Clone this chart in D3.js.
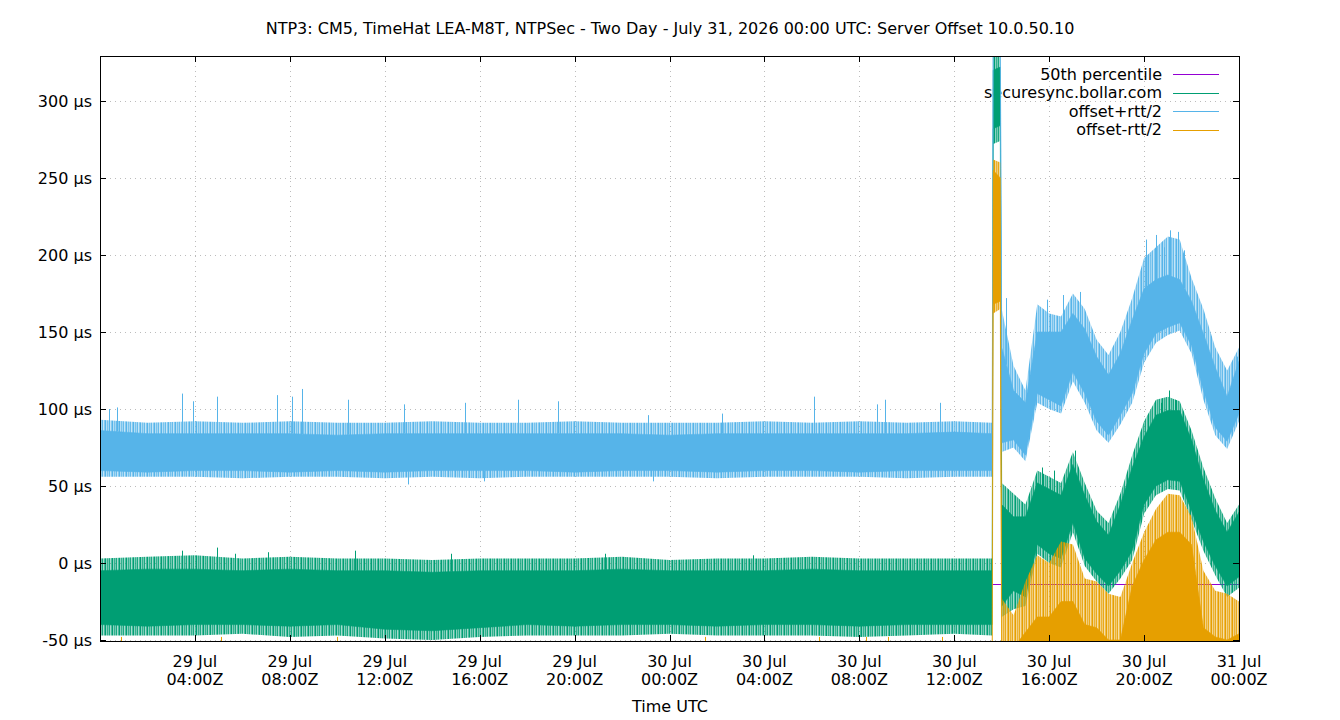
<!DOCTYPE html>
<meta charset="utf-8">
<head>
<style>
body { margin: 0; background: #fff; }
text { font-family: "DejaVu Sans", sans-serif; font-size: 16px; fill: #000; }
.axis path { display: none; }
.axis line { stroke: #000; shape-rendering: crispEdges; }
.grid line { stroke: #bcbcbc; stroke-dasharray: 1,4; shape-rendering: crispEdges; }
</style>
</head>
<body>
<script src="https://d3js.org/d3.v7.min.js"></script>
<script>
// hours after 29 Jul 2026 00:00Z
var start = Date.UTC(2026, 6, 29, 0, 0);

var hours = [0, 2, 4, 6, 8, 10, 12, 14, 16, 18, 20, 22, 24, 26, 28, 30, 32, 34, 36, 37.6,
    37.64, 37.94,
    38, 38.5, 39, 39.5, 40, 40.5, 41, 41.5, 42, 42.5, 43, 43.5, 44, 44.5, 45, 45.5, 46, 46.5, 47, 47.5, 48];

// securesync.bollar.com (offset)
var offLo  = [-40, -41, -40, -40, -41, -40, -43, -44, -42, -40, -41, -40, -40, -41, -40, -40, -41, -40, -40, -40,
    282, 284,
    -28, -18, -22, 12, 6, 3, 26, 3, -7, -15, -5, 8, 38, 50, 54, 53, 34, 14, -2, -15, -9];
var offHi  = [-5, -4, -4, -5, -4, -5, -5, -6, -5, -5, -5, -4, -5, -5, -5, -4, -5, -5, -5, -5,
    320, 322,
    38, 30, 30, 52, 48, 44, 64, 44, 27, 18, 38, 62, 82, 96, 99, 99, 80, 54, 34, 20, 33];
var offMin = [-47, -47, -47, -46, -48, -47, -49, -50, -48, -47, -47, -47, -46, -47, -47, -47, -48, -47, -46, -47,
    272, 274,
    -35, -30, -28, 6, 0, -3, 20, -2, -12, -20, -10, 2, 32, 44, 48, 47, 28, 8, -8, -22, -16];
var offMax = [3, 4, 5, 3, 4, 3, 3, 2, 3, 3, 3, 4, 2, 3, 3, 4, 3, 3, 3, 3,
    332, 332,
    52, 45, 38, 60, 56, 52, 72, 52, 34, 26, 45, 70, 92, 106, 108, 105, 86, 62, 42, 26, 38];

// offset+rtt/2
var upLo  = [60, 59, 60, 60, 59, 60, 59, 60, 60, 60, 59, 60, 60, 59, 60, 60, 59, 60, 60, 60,
    340, 340,
    78, 80, 70, 110, 106, 102, 124, 110, 92, 83, 96, 110, 136, 149, 153, 156, 141, 112, 88, 79, 97];
var upHi  = [86, 84, 84, 84, 84, 83, 84, 84, 84, 84, 84, 84, 83, 84, 84, 84, 84, 84, 85, 84,
    345, 345,
    140, 112, 104, 150, 150, 150, 162, 152, 134, 122, 136, 158, 178, 184, 187, 184, 170, 149, 127, 108, 131];
var upMin = [56, 56, 56, 55, 56, 56, 55, 56, 55, 56, 56, 56, 56, 55, 56, 56, 56, 55, 56, 56,
    340, 340,
    72, 75, 66, 104, 100, 97, 118, 104, 86, 78, 90, 104, 130, 143, 148, 151, 136, 106, 83, 74, 92];
var upMax = [93, 91, 92, 91, 92, 91, 91, 92, 91, 91, 92, 91, 91, 91, 92, 91, 92, 91, 92, 91,
    350, 350,
    165, 128, 112, 168, 162, 160, 175, 165, 145, 135, 150, 172, 198, 205, 212, 210, 185, 165, 140, 125, 140];

// offset-rtt/2
var dnLo  = [-80, -80, -80, -80, -80, -80, -80, -80, -80, -80, -80, -80, -80, -80, -80, -80, -80, -80, -80, -80,
    168, 170,
    -80, -80, -80, -80, -80, -80, -80, -80, -80, -80, -80, -80, -80, -80, -80, -80, -80, -80, -80, -80, -80];
var dnHi  = [-70, -70, -70, -70, -70, -70, -70, -70, -70, -70, -70, -70, -70, -70, -70, -70, -70, -70, -70, -70,
    255, 250,
    -52, -55, -45, -35, -35, -25, -25, -40, -42, -50, -50, -15, 2, 15, 20, 20, 12, -42, -48, -50, -46];
var dnMin = [-80, -80, -80, -80, -80, -80, -80, -80, -80, -80, -80, -80, -80, -80, -80, -80, -80, -80, -80, -80,
    162, 165,
    -80, -80, -80, -80, -80, -80, -80, -80, -80, -80, -80, -80, -80, -80, -80, -80, -80, -80, -80, -80, -80];
var dnMax = [-62, -62, -62, -62, -62, -62, -62, -62, -62, -62, -62, -62, -62, -62, -62, -62, -62, -62, -62, -62,
    262, 260,
    -23, -34, -12, 5, 0, 14, 12, -10, -12, -20, -22, 0, 20, 35, 45, 44, 30, -5, -18, -20, -25];

var median = -13.5;

// single readings that stick out of the bands: [hour, value]
var upSpikes = [[0.4, 100], [0.7, 101], [3.45, 110], [3.9, 105], [4.93, 108], [7.45, 109], [8.1, 108], [8.5, 113],
    [10.45, 106], [12.8, 103], [15.4, 104], [17.6, 106], [19.3, 105], [23.1, 96], [26.2, 97], [30.1, 108],
    [32.75, 103], [33.1, 106], [35.4, 104], [38.2, 172], [39.9, 171], [40.6, 174], [41.3, 176],
    [44.1, 210], [44.5, 213], [44.85, 205], [45.1, 216], [45.45, 215], [45.7, 203], [47.9, 134]];
var upDips = [[12.98, 51], [16.2, 53], [23.3, 53]];
var offSpikes = [[3.45, 8], [4.95, 10], [5.7, 6], [7.1, 7], [10.75, 8], [14.8, 6], [21.3, 6], [27.5, 5],
    [39.7, 62], [40.2, 60], [41.1, 73], [44.7, 104], [45.05, 112], [45.3, 106]];
var dnSpikes = [[0.9, -48], [5.1, -48], [10.0, -48], [25.5, -48], [30.3, -48], [32.3, -48], [33.2, -48], [35.5, -48]];

var legendNames = ["50th percentile", "securesync.bollar.com", "offset+rtt/2", "offset-rtt/2"];
var legendColors = ["#9400d3", "#009e73", "#56b4e9", "#e69f00"];

var yTicks = [-50, 0, 50, 100, 150, 200, 250, 300];
var xTickHours = [4, 8, 12, 16, 20, 24, 28, 32, 36, 40, 44, 48];

var W = 1340, H = 720;
var pL = 100, pR = 1239, pT = 56, pB = 641;

var toDate = function(h) { return new Date(start + h * 3600e3); };

var x = d3.scaleUtc().domain([toDate(0), toDate(48)]).range([pL, pR]);
var y = d3.scaleLinear().domain([-50.65, 329.2]).range([pB, pT]);

var svg = d3.select("body").append("svg")
    .attr("width", W)
    .attr("height", H);

var defs = svg.append("defs");
defs.append("clipPath").attr("id", "plot")
    .append("rect")
    .attr("x", pL).attr("y", pT)
    .attr("width", pR - pL).attr("height", pB - pT);

// striped fill for the ragged edges of each band (dense 1px samples)
var stripe = [1, 0.45, 0.8, 0.55, 0.9, 0.35, 0.7];
legendColors.forEach(function(c, i) {
    var p = defs.append("pattern").attr("id", "tex" + i)
        .attr("patternUnits", "userSpaceOnUse")
        .attr("width", stripe.length).attr("height", 8);
    stripe.forEach(function(o, k) {
        p.append("rect").attr("x", k).attr("width", 1).attr("height", 8)
            .style("fill", c).style("opacity", o);
    });
});

// title
svg.append("text")
    .attr("x", 670).attr("y", 34)
    .style("text-anchor", "middle")
    .text("NTP3: CM5, TimeHat LEA-M8T, NTPSec - Two Day - July 31, 2026 00:00 UTC: Server Offset 10.0.50.10");

// grid
var grid = svg.append("g").attr("class", "grid");
grid.selectAll(".gy").data(yTicks).enter().append("line")
    .attr("x1", pL).attr("x2", pR)
    .attr("y1", function(d) { return Math.round(y(d)) + 0.5; })
    .attr("y2", function(d) { return Math.round(y(d)) + 0.5; });
grid.selectAll(".gx").data(xTickHours).enter().append("line")
    .attr("y1", pT).attr("y2", pB)
    .attr("x1", function(d) { return Math.round(x(toDate(d))) + 0.5; })
    .attr("x2", function(d) { return Math.round(x(toDate(d))) + 0.5; });

// legend text goes under the data, lines too
var legend = svg.append("g");
legendNames.forEach(function(name, i) {
    var ly = 74 + i * 18.5;
    legend.append("text")
        .attr("x", 1162).attr("y", ly).attr("dy", "0.35em")
        .style("text-anchor", "end")
        .text(name);
    legend.append("line")
        .attr("x1", 1173).attr("x2", 1219)
        .attr("y1", Math.round(ly) + 0.5).attr("y2", Math.round(ly) + 0.5)
        .style("stroke", legendColors[i]);
});

var plot = svg.append("g").attr("clip-path", "url(#plot)");

// 50th percentile
plot.append("line")
    .attr("x1", pL).attr("x2", pR)
    .attr("y1", Math.round(y(median)) + 0.5).attr("y2", Math.round(y(median)) + 0.5)
    .style("stroke", legendColors[0]);

function band(lo, hi) {
    return d3.area()
        .x(function(d, i) { return x(toDate(hours[i])); })
        .y0(function(d, i) { return y(lo[i]); })
        .y1(function(d, i) { return y(hi[i]); })(hours);
}

function spikes(list, edge, color) {
    var base = d3.scaleLinear().domain(hours).range(edge);
    plot.append("g").selectAll("line")
        .data(list)
        .enter().append("line")
        .attr("x1", function(d) { return Math.round(x(toDate(d[0]))) + 0.5; })
        .attr("x2", function(d) { return Math.round(x(toDate(d[0]))) + 0.5; })
        .attr("y1", function(d) { return y(d[1]); })
        .attr("y2", function(d) { return y(base(d[0])); })
        .style("stroke", color);
}

function series(mn, mx, lo, hi, i) {
    var color = legendColors[i];
    plot.append("path").attr("d", band(mn, mx))
        .style("fill", "url(#tex" + i + ")");
    plot.append("path").attr("d", band(lo, hi))
        .style("fill", color)
        .style("stroke", color).style("stroke-width", 0.6);
}

series(offMin, offMax, offLo, offHi, 1);
spikes(offSpikes, offHi, legendColors[1]);

series(upMin, upMax, upLo, upHi, 2);
spikes(upSpikes, upHi, legendColors[2]);
spikes(upDips, upLo, legendColors[2]);

series(dnMin, dnMax, dnLo, dnHi, 3);
spikes(dnSpikes, dnHi, legendColors[3]);

// axes, ticks inward and mirrored
var yAxis = svg.append("g").attr("class", "axis")
    .attr("transform", "translate(" + pL + ",0)")
    .call(d3.axisLeft(y).tickValues(yTicks).tickSize(-6).tickPadding(8)
        .tickFormat(function(d) { return d + " µs"; }));
yAxis.selectAll("text").style("font-size", "16px").style("font-family", "DejaVu Sans");

svg.append("g").attr("class", "axis")
    .attr("transform", "translate(" + pR + ",0)")
    .call(d3.axisRight(y).tickValues(yTicks).tickSize(-6).tickFormat(""));

svg.append("g").attr("class", "axis")
    .attr("transform", "translate(0," + pB + ")")
    .call(d3.axisBottom(x).tickValues(xTickHours.map(toDate)).tickSize(-6).tickFormat(""));

svg.append("g").attr("class", "axis")
    .attr("transform", "translate(0," + pT + ")")
    .call(d3.axisTop(x).tickValues(xTickHours.map(toDate)).tickSize(-6).tickFormat(""));

var dayFmt = d3.utcFormat("%d %b"), timeFmt = d3.utcFormat("%H:%MZ");
xTickHours.forEach(function(h) {
    var t = svg.append("text")
        .attr("x", x(toDate(h)))
        .attr("y", 667)
        .style("text-anchor", "middle");
    t.append("tspan").attr("x", x(toDate(h))).text(dayFmt(toDate(h)));
    t.append("tspan").attr("x", x(toDate(h))).attr("dy", 18).text(timeFmt(toDate(h)));
});

// border
svg.append("rect")
    .attr("x", pL + 0.5).attr("y", pT + 0.5)
    .attr("width", pR - pL).attr("height", pB - pT)
    .style("fill", "none").style("stroke", "#000");

svg.append("text")
    .attr("x", 670).attr("y", 712)
    .style("text-anchor", "middle")
    .text("Time UTC");
</script>
</body>
